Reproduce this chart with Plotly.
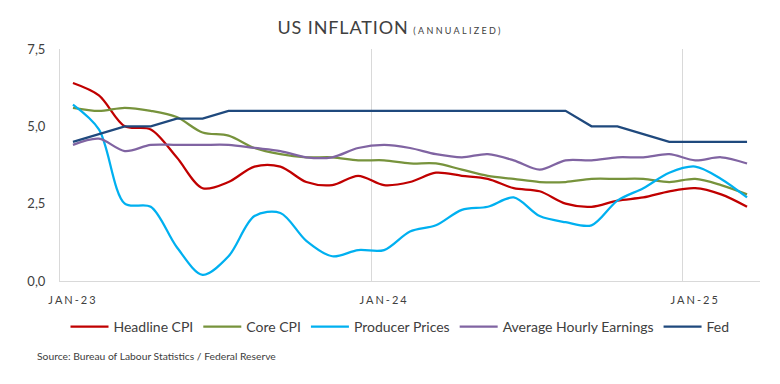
import plotly.graph_objects as go

months = ["Jan-23","Feb-23","Mar-23","Apr-23","May-23","Jun-23","Jul-23","Aug-23","Sep-23","Oct-23","Nov-23","Dec-23",
          "Jan-24","Feb-24","Mar-24","Apr-24","May-24","Jun-24","Jul-24","Aug-24","Sep-24","Oct-24","Nov-24","Dec-24",
          "Jan-25","Feb-25","Mar-25"]
headline_cpi = [6.4,6.0,5.0,4.9,4.0,3.0,3.2,3.7,3.7,3.2,3.1,3.4,3.1,3.2,3.5,3.4,3.3,3.0,2.9,2.5,2.4,2.6,2.7,2.9,3.0,2.8,2.4]
core_cpi = [5.6,5.5,5.6,5.5,5.3,4.8,4.7,4.3,4.1,4.0,4.0,3.9,3.9,3.8,3.8,3.6,3.4,3.3,3.2,3.2,3.3,3.3,3.3,3.2,3.3,3.1,2.8]
producer_prices = [5.7,4.9,2.5,2.4,1.1,0.2,0.8,2.1,2.2,1.3,0.8,1.0,1.0,1.6,1.8,2.3,2.4,2.7,2.1,1.9,1.8,2.6,3.0,3.5,3.7,3.3,2.7]
avg_hourly_earnings = [4.4,4.6,4.2,4.4,4.4,4.4,4.4,4.3,4.2,4.0,4.0,4.3,4.4,4.3,4.1,4.0,4.1,3.9,3.6,3.9,3.9,4.0,4.0,4.1,3.9,4.0,3.8]
fed = [4.5,4.75,5.0,5.0,5.25,5.25,5.5,5.5,5.5,5.5,5.5,5.5,5.5,5.5,5.5,5.5,5.5,5.5,5.5,5.5,5.0,5.0,4.75,4.5,4.5,4.5,4.5]

x_ticks = ["JAN-23", "JAN-24", "JAN-25"]
y_ticks = [0, 2.5, 5, 7.5]

FONT = "Lato"
GREY = "#404040"
H = 384

series = [
    ("Headline CPI", headline_cpi, "#C00000", "spline"),
    ("Core CPI", core_cpi, "#77933C", "spline"),
    ("Producer Prices", producer_prices, "#00B0F0", "spline"),
    ("Average Hourly Earnings", avg_hourly_earnings, "#8064A2", "spline"),
    ("Fed", fed, "#1F497D", "linear"),
]

idx = list(range(len(months)))
fig = go.Figure()
for name, vals, color, shape in series:
    fig.add_trace(go.Scatter(
        x=idx, y=vals, name=name, mode="lines",
        line=dict(color=color, width=2.25, shape=shape, smoothing=0.9),
        customdata=months, hovertemplate="%{customdata}: %{y}<extra>" + name + "</extra>",
    ))

tick_pos = [months.index("Jan-23"), months.index("Jan-24"), months.index("Jan-25")]
grid_pos = [p - 0.5 for p in tick_pos[1:]]

fig.update_layout(
    width=780, height=H,
    margin=dict(l=60, r=20, t=49, b=103, autoexpand=False),
    paper_bgcolor="white", plot_bgcolor="white",
    separators=",.",
    font=dict(family=FONT, color=GREY),
    title=dict(
        text='<span style="letter-spacing:0.9px">US INFLATION</span> '
             '<span style="font-size:9px;letter-spacing:2.3px">(ANNUALIZED)</span>',
        x=0.5, xanchor="center", xref="container", y=1 - 28/H, yanchor="middle", yref="container",
        font=dict(family=FONT, size=18, color=GREY),
    ),
    xaxis=dict(
        range=[-0.5, len(months) - 0.5], automargin=False,
        tickmode="array", tickvals=tick_pos,
        ticktext=['<span style="letter-spacing:2px">%s</span>' % t for t in x_ticks],
        tickfont=dict(family=FONT, size=11, color=GREY),
        showgrid=False, zeroline=False,
        showline=True, linecolor="#D9D9D9", linewidth=1,
        ticks="", ticklen=0, ticklabelstandoff=9,
        minor=dict(tickmode="array", tickvals=grid_pos, showgrid=True,
                   gridcolor="#D9D9D9", gridwidth=1, ticks=""),
    ),
    yaxis=dict(
        range=[0, 7.5], automargin=False, tickmode="array", tickvals=y_ticks, tickformat=".1f",
        tickfont=dict(family=FONT, size=13, color=GREY),
        showgrid=False, zeroline=False,
        showline=True, linecolor="#D9D9D9", linewidth=1,
        ticks="", ticklabelstandoff=11,
    ),
    legend=dict(
        orientation="h", x=(400 - 60) / 700, xanchor="center", xref="paper",
        y=1 - 327/H, yanchor="middle", yref="container",
        font=dict(family=FONT, size=14, color=GREY),
        itemwidth=38, tracegroupgap=0,
    ),
    showlegend=True,
    annotations=[dict(
        text="Source: Bureau of Labour Statistics / Federal Reserve",
        xref="paper", yref="paper", x=-25/700, y=-(356-281)/232, xanchor="left", yanchor="middle",
        showarrow=False, font=dict(family=FONT, size=10.3, color=GREY),
    )],
)

fig.write_html("out.html", config={"displayModeBar": False},
               post_script="document.body.style.margin='0';document.body.style.overflow='hidden';")
